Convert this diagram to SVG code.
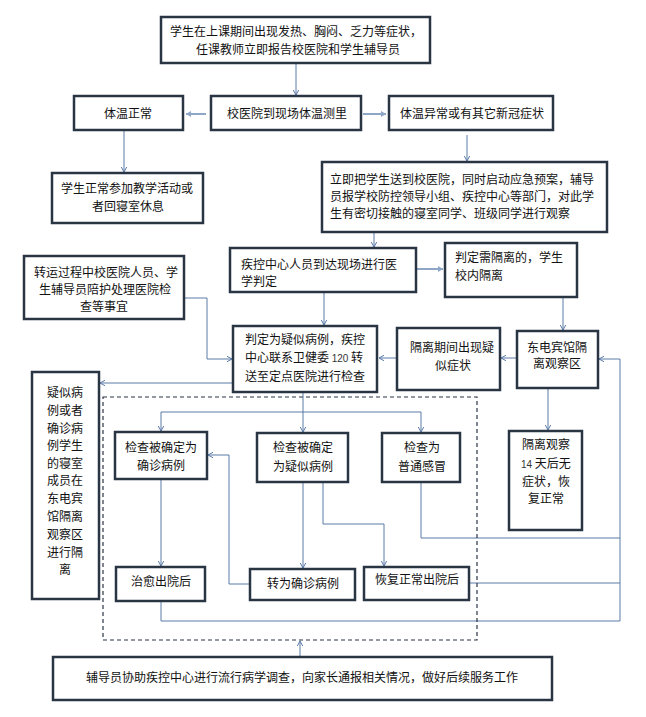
<svg xmlns="http://www.w3.org/2000/svg" width="646" height="717" viewBox="0 0 646 717">
<defs>
<marker id="ah" markerWidth="8" markerHeight="8" refX="5" refY="3" orient="auto" markerUnits="userSpaceOnUse">
<path d="M0,0.3 L5,3 L0,5.7" fill="none" stroke="#5a7aa8" stroke-width="1"/>
</marker>
<marker id="ah2" markerWidth="8" markerHeight="8" refX="5" refY="3" orient="auto" markerUnits="userSpaceOnUse">
<path d="M0,0 L5,3 L0,6 Z" fill="#8ea7c7" stroke="none"/>
</marker>
</defs>
<style>
.b{fill:#fff;stroke:#2a3544;stroke-width:2.5}
.t{font-family:"Noto Sans CJK SC","Noto Sans",sans-serif;font-size:12px;fill:#111}
.m{text-anchor:middle}
.c{fill:none;stroke:#5a7aa8;stroke-width:1}
.a{marker-end:url(#ah)}
.k{fill:none;stroke:#8ea7c7;stroke-width:2;marker-end:url(#ah2)}
.d{fill:none;stroke:#2a3544;stroke-width:1.2;stroke-dasharray:4 3}
.n{font-family:"Liberation Sans",sans-serif;font-size:10px;fill:#333}
</style>
<rect width="646" height="717" fill="#fff"/>

<g id="connectors">
<path class="c a" d="M296,63 L296,95"/>
<path class="k" d="M206,114 L186,114"/>
<path class="k" d="M363,114 L386,114"/>
<path class="c a" d="M124,130 L124,172"/>
<path class="c a" d="M467,135 L467,161"/>
<path class="c a" d="M374,232 L374,247"/>
<path class="k" d="M417,269 L443,269"/>
<path class="c a" d="M563,297 L563,330"/>
<path class="c a" d="M517,358 L501,358"/>
<path class="c a" d="M397,358 L379,358"/>
<path class="c a" d="M324,292 L324,325"/>
<path class="c a" d="M184,298 L207,298 L207,359 L232,359"/>
<path class="c a" d="M233,383 L100,383"/>
<path class="c a" d="M303,392 L303,432"/>
<path class="c a" d="M303,412 L161,412 L161,431"/>
<path class="c a" d="M303,412 L421,412 L421,432"/>
<path class="c a" d="M161,479 L161,566"/>
<path class="c a" d="M303,482 L303,568"/>
<path class="c a" d="M323,482 L323,524 L384,524 L384,566"/>
<path class="c a" d="M250,584 L229,584 L229,455 L208,455"/>
<path class="c" d="M421,482 L421,538 L620,538"/>
<path class="c" d="M469,583 L620,583"/>
<path class="c a" d="M161,601 L161,621 L620,621 L620,359 L599,359"/>
<path class="c a" d="M548,388 L548,430"/>
<path class="c a" d="M300,657 L300,641"/>
</g>

<rect id="dashed-group" class="d" x="103" y="397" width="374" height="243"/>

<g id="n1">
<rect class="b" x="161" y="17" width="269" height="46"/>
<text class="t m" x="296" y="36">学生在上课期间出现发热、胸闷、乏力等症状，</text>
<text class="t m" x="298" y="54">任课教师立即报告校医院和学生辅导员</text>
</g>
<g id="n2">
<rect class="b" x="74" y="96" width="109" height="34"/>
<text class="t m" x="128" y="118">体温正常</text>
</g>
<g id="n3">
<rect class="b" x="211" y="96" width="150" height="34"/>
<text class="t m" x="287" y="118">校医院到现场体温测里</text>
</g>
<g id="n4">
<rect class="b" x="389" y="96" width="164" height="34"/>
<text class="t m" x="472" y="118">体温异常或有其它新冠症状</text>
</g>
<g id="n5">
<rect class="b" x="52" y="173" width="151" height="50"/>
<text class="t m" x="127" y="193">学生正常参加教学活动或</text>
<text class="t m" x="128" y="211">者回寝室休息</text>
</g>
<g id="n6">
<rect class="b" x="322" y="162" width="285" height="70"/>
<text class="t" x="330" y="184">立即把学生送到校医院，同时启动应急预案，辅导</text>
<text class="t" x="330" y="201">员报学校防控领导小组、疾控中心等部门，对此学</text>
<text class="t" x="330" y="218">生有密切接触的寝室同学、班级同学进行观察</text>
</g>
<g id="n7">
<rect class="b" x="230" y="248" width="186" height="44"/>
<text class="t" x="241" y="269">疾控中心人员到达现场进行医</text>
<text class="t" x="241" y="286">学判定</text>
</g>
<g id="n8">
<rect class="b" x="445" y="243" width="132" height="54"/>
<text class="t" x="455" y="262">判定需隔离的，学生</text>
<text class="t" x="455" y="280">校内隔离</text>
</g>
<g id="n9">
<rect class="b" x="24" y="256" width="160" height="63"/>
<text class="t m" x="106" y="277">转运过程中校医院人员、学</text>
<text class="t m" x="105" y="294">生辅导员陪护处理医院检</text>
<text class="t m" x="104" y="311">查等事宜</text>
</g>
<g id="n10">
<rect class="b" x="233" y="326" width="144" height="66"/>
<text class="t" x="245" y="344">判定为疑似病例，疾控</text>
<text class="t" x="245" y="362">中心联系卫健委 <tspan class="n">120</tspan> 转</text>
<text class="t" x="245" y="381">送至定点医院进行检查</text>
</g>
<g id="n11">
<rect class="b" x="397" y="328" width="103" height="62"/>
<text class="t m" x="452" y="352">隔离期间出现疑</text>
<text class="t m" x="453" y="370">似症状</text>
</g>
<g id="n12">
<rect class="b" x="517" y="331" width="81" height="57"/>
<text class="t m" x="557" y="352">东电宾馆隔</text>
<text class="t m" x="557" y="368">离观察区</text>
</g>
<g id="n13">
<rect class="b" x="32" y="372" width="67" height="227"/>
<text class="t m" x="65" y="397">疑似病</text>
<text class="t m" x="65" y="415">例或者</text>
<text class="t m" x="65" y="433">确诊病</text>
<text class="t m" x="65" y="450">例学生</text>
<text class="t m" x="65" y="468">的寝室</text>
<text class="t m" x="65" y="485">成员在</text>
<text class="t m" x="65" y="503">东电宾</text>
<text class="t m" x="65" y="521">馆隔离</text>
<text class="t m" x="65" y="539">观察区</text>
<text class="t m" x="65" y="557">进行隔</text>
<text class="t m" x="65" y="574">离</text>
</g>
<g id="n14">
<rect class="b" x="115" y="432" width="92" height="47"/>
<text class="t m" x="161" y="452">检查被确定为</text>
<text class="t m" x="161" y="470">确诊病例</text>
</g>
<g id="n15">
<rect class="b" x="257" y="433" width="91" height="49"/>
<text class="t m" x="303" y="452">检查被确定</text>
<text class="t m" x="303" y="471">为疑似病例</text>
</g>
<g id="n16">
<rect class="b" x="382" y="433" width="78" height="49"/>
<text class="t m" x="422" y="452">检查为</text>
<text class="t m" x="422" y="471">普通感冒</text>
</g>
<g id="n17">
<rect class="b" x="509" y="431" width="73" height="99"/>
<text class="t m" x="546" y="449">隔离观察</text>
<text class="t" x="521" y="468"><tspan class="n">14</tspan> 天后无</text>
<text class="t m" x="546" y="486">症状，恢</text>
<text class="t m" x="546" y="503">复正常</text>
</g>
<g id="n18">
<rect class="b" x="116" y="567" width="89" height="34"/>
<text class="t m" x="161" y="586">治愈出院后</text>
</g>
<g id="n19">
<rect class="b" x="250" y="569" width="105" height="31"/>
<text class="t m" x="303" y="588">转为确诊病例</text>
</g>
<g id="n20">
<rect class="b" x="364" y="567" width="105" height="33"/>
<text class="t m" x="417" y="584">恢复正常出院后</text>
</g>
<g id="n21">
<rect class="b" x="53" y="657" width="499" height="43"/>
<text class="t m" x="302" y="682">辅导员协助疾控中心进行流行病学调查，向家长通报相关情况，做好后续服务工作</text>
</g>
</svg>
